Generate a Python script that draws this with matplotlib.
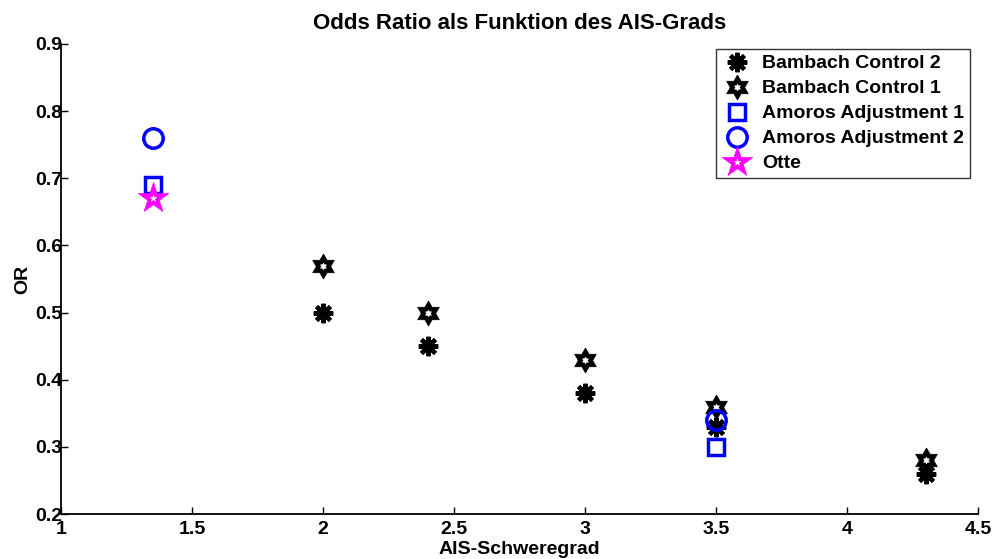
import numpy as np
import matplotlib
matplotlib.use("Agg")
import matplotlib.pyplot as plt
from matplotlib.legend_handler import HandlerTuple

plt.rcParams['font.family'] = ['Liberation Sans', 'DejaVu Sans']
plt.rcParams['font.weight'] = 'bold'

# data
bambach2_x = [2.0, 2.4, 3.0, 3.5, 4.3]
bambach2_y = [0.50, 0.45, 0.38, 0.33, 0.26]
bambach1_x = [2.0, 2.4, 3.0, 3.5, 4.3]
bambach1_y = [0.57, 0.50, 0.43, 0.36, 0.28]
amoros1_x = [1.35, 3.5]
amoros1_y = [0.69, 0.30]
amoros2_x = [1.35, 3.5]
amoros2_y = [0.76, 0.34]
otte_x = [1.35]
otte_y = [0.67]

labels = ['Bambach Control 2', 'Bambach Control 1', 'Amoros Adjustment 1',
          'Amoros Adjustment 2', 'Otte']
xticks = [1, 1.5, 2, 2.5, 3, 3.5, 4, 4.5]
yticks = [0.2, 0.3, 0.4, 0.5, 0.6, 0.7, 0.8, 0.9]


def star_verts(n, inner):
    # outline of an n-pointed star, first point on top
    verts = []
    for k in range(2 * n):
        ang = np.pi / 2 + k * np.pi / n
        r = 1.0 if k % 2 == 0 else inner
        verts.append((r * np.cos(ang), r * np.sin(ang)))
    verts.append(verts[0])
    return verts


hexagram = star_verts(6, 1 / np.sqrt(3))
pentagram = star_verts(5, 0.382)

fig = plt.figure(figsize=(9.97, 5.59), dpi=100)
ax = fig.add_axes([0.0612, 0.0805, 0.92, 0.841])

h1, = ax.plot(bambach2_x, bambach2_y, linestyle='none', marker=(8, 2, 0), markersize=14,
              color='black', markeredgewidth=3)
# hexagram: solid black star with a small white hole, like the thick-edged matlab marker
h2a, = ax.plot(bambach1_x, bambach1_y, linestyle='none', marker=hexagram, markersize=18,
               markerfacecolor='black', markeredgecolor='black', markeredgewidth=0.5)
h2b, = ax.plot(bambach1_x, bambach1_y, linestyle='none', marker=hexagram, markersize=5,
               markerfacecolor='white', markeredgecolor='white', markeredgewidth=0.3)
h3, = ax.plot(amoros1_x, amoros1_y, linestyle='none', marker='s', markersize=12,
              markerfacecolor='none', markeredgecolor='blue', markeredgewidth=2.5)
h4, = ax.plot(amoros2_x, amoros2_y, linestyle='none', marker='o', markersize=14,
              markerfacecolor='none', markeredgecolor='blue', markeredgewidth=2.5)
h5a, = ax.plot(otte_x, otte_y, linestyle='none', marker=pentagram, markersize=23,
               markerfacecolor='magenta', markeredgecolor='magenta', markeredgewidth=0.5)
h5b, = ax.plot(otte_x, otte_y, linestyle='none', marker=pentagram, markersize=5,
               markerfacecolor='white', markeredgecolor='white', markeredgewidth=0.3)

ax.set_xlim(1, 4.5)
ax.set_ylim(0.2, 0.9)
ax.set_xticks(xticks)
ax.set_xticklabels(['1', '1.5', '2', '2.5', '3', '3.5', '4', '4.5'])
ax.set_yticks(yticks)
ax.set_yticklabels(['0.2', '0.3', '0.4', '0.5', '0.6', '0.7', '0.8', '0.9'])
ax.tick_params(direction='in', length=5, width=1, labelsize=14)
ax.tick_params(axis='x', pad=5)
ax.tick_params(axis='y', pad=-1)
ax.spines['top'].set_visible(False)
ax.spines['right'].set_visible(False)
ax.spines['left'].set_linewidth(1.3)
ax.spines['bottom'].set_linewidth(1.3)

ax.set_title('Odds Ratio als Funktion des AIS-Grads', fontsize=16, fontweight='bold', pad=11)
ax.set_xlabel('AIS-Schweregrad', fontsize=14, fontweight='bold', labelpad=2)
ax.set_ylabel('OR', fontsize=14, fontweight='bold', labelpad=3)

handles = [h1, (h2a, h2b), h3, h4, (h5a, h5b)]
leg = ax.legend(handles, labels, handler_map={tuple: HandlerTuple(ndivide=1)},
                loc='upper right', bbox_to_anchor=(970 / 997, 1 - 49 / 559),
                bbox_transform=fig.transFigure, fontsize=14, frameon=True,
                fancybox=False, edgecolor='black', borderpad=0.3, labelspacing=0.38,
                handletextpad=0.5, handlelength=1.6, borderaxespad=0.0)
leg.get_frame().set_linewidth(1.0)

fig.savefig('out.png', dpi=100)
